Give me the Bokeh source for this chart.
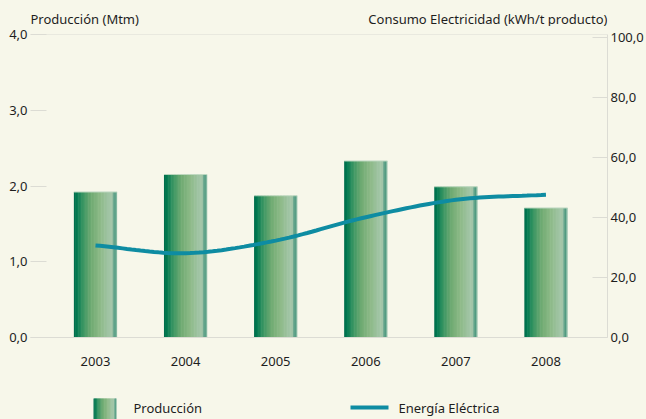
import numpy as np
from bokeh.plotting import figure
from bokeh.models import Range1d, LinearAxis, FixedTicker, Span
from bokeh.layouts import column
from bokeh.embed import file_html
from bokeh.resources import INLINE
from bokeh.core.properties import value

# ---- data ----
years = ["2003", "2004", "2005", "2006", "2007", "2008"]
produccion = [1.92, 2.15, 1.87, 2.33, 1.99, 1.71]          # Mtm (left axis)
energia = [30.7, 28.1, 32.3, 40.1, 45.9, 47.6]              # kWh/t (right axis)
left_ticks = [0, 1, 2, 3, 4]
left_labels = ["0,0", "1,0", "2,0", "3,0", "4,0"]
right_ticks = [0, 20, 40, 60, 80, 100]
right_labels = ["0,0", "20,0", "40,0", "60,0", "80,0", "100,0"]
left_title = "Producción (Mtm)"
right_title = "Consumo Electricidad (kWh/t producto)"
legend_labels = ["Producción", "Energía Eléctrica"]

# ---- style ----
BG = "#f7f7ea"
GRID = "#dcdcd4"
TXT = "#1e1e1e"
LINE = "#0e8ca2"
FONT = "Noto Sans"
FS = "13px"
W = 646
FL, FR = 30, 607   # frame edges in page pixels (column aligns frames)

stops = [
    (0.00, (0, 108, 76)),
    (0.06, (0, 120, 80)),
    (0.20, (55, 148, 98)),
    (0.40, (112, 171, 114)),
    (0.60, (140, 185, 135)),
    (0.80, (160, 196, 164)),
    (0.88, (166, 199, 170)),
    (0.91, (122, 176, 150)),
    (0.94, (72, 150, 124)),
    (0.97, (100, 166, 140)),
    (1.00, (165, 202, 182)),
]


def grad_color(t):
    for (p0, c0), (p1, c1) in zip(stops[:-1], stops[1:]):
        if p0 <= t <= p1:
            f = (t - p0) / (p1 - p0) if p1 > p0 else 0
            c = [int(round(a + (b - a) * f)) for a, b in zip(c0, c1)]
            return "#%02x%02x%02x" % tuple(c)
    return "#%02x%02x%02x" % stops[-1][1]


def strips(center, width, ns, overlap):
    lefts, rights, cols = [], [], []
    for k in range(ns):
        l = center - width / 2 + k * width / ns
        r = center - width / 2 + (k + 1) * width / ns
        if k < ns - 1:
            r += overlap
        lefts.append(l)
        rights.append(r)
        cols.append(grad_color((k + 0.5) / ns))
    return lefts, rights, cols


NS = 30
x0, x1 = -0.7214, 5.683
BW = 0.48

# ---- header with axis titles ----
head = figure(width=W, height=26, x_range=Range1d(FL, FR), y_range=Range1d(0, 26),
              output_backend="svg", toolbar_location=None, x_axis_type=None, y_axis_type=None,
              background_fill_color=BG, border_fill_color=BG, outline_line_color=None,
              min_border=0)
head.xgrid.visible = False
head.ygrid.visible = False
head.text(x=[FL], y=[8], text=[left_title], text_font=value(FONT), text_font_size=FS,
          text_color=TXT, text_baseline="middle", text_align="left")
head.text(x=[FR], y=[8], text=[right_title], text_font=value(FONT), text_font_size=FS,
          text_color=TXT, text_baseline="middle", text_align="right")

# ---- main chart ----
p = figure(width=W, height=354, x_range=Range1d(x0, x1), y_range=Range1d(0, 4),
           output_backend="svg", toolbar_location=None,
           background_fill_color=BG, border_fill_color=BG, outline_line_color=None,
           min_border_left=FL, min_border_right=W - FR, min_border_top=8, min_border_bottom=43)
p.extra_y_ranges = {"right": Range1d(0, 101)}
p.xgrid.visible = False
p.ygrid.visible = False

ya = p.yaxis[0]
ya.ticker = FixedTicker(ticks=left_ticks)
ya.major_label_overrides = {t: l for t, l in zip(left_ticks, left_labels)}
ya.axis_line_color = None
ya.major_tick_in = 16
ya.major_tick_out = 0
ya.major_tick_line_color = GRID
ya.minor_tick_line_color = None
ya.major_label_standoff = 3
ya.major_label_text_font = FONT
ya.major_label_text_font_size = FS
ya.major_label_text_color = TXT

xa = p.xaxis[0]
xa.ticker = FixedTicker(ticks=list(range(len(years))))
xa.major_label_overrides = {i: y for i, y in enumerate(years)}
xa.axis_line_color = GRID
xa.major_tick_line_color = None
xa.minor_tick_line_color = None
xa.major_label_standoff = 13
xa.major_label_text_font = FONT
xa.major_label_text_font_size = FS
xa.major_label_text_color = TXT

ra = LinearAxis(y_range_name="right", ticker=FixedTicker(ticks=right_ticks))
ra.major_label_overrides = {t: l for t, l in zip(right_ticks, right_labels)}
ra.axis_line_color = GRID
ra.major_tick_in = 15
ra.major_tick_out = 0
ra.major_tick_line_color = GRID
ra.minor_tick_line_color = None
ra.major_label_standoff = 3
ra.major_label_text_font = FONT
ra.major_label_text_font_size = FS
ra.major_label_text_color = TXT
p.add_layout(ra, "right")

p.add_layout(Span(location=4, dimension="width", line_color=GRID, line_width=1))

L, R, T, C = [], [], [], []
for i, v in enumerate(produccion):
    l, r, c = strips(i, BW, NS, 0.006)
    L += l
    R += r
    C += c
    T += [v] * NS
p.quad(left=L, right=R, top=T, bottom=0, fill_color=C, line_color=None)
# light highlight on bar tops
p.hbar(y=produccion, left=[i - BW / 2 for i in range(len(years))],
       right=[i + BW / 2 for i in range(len(years))], height=0.012,
       fill_color="#b9d6bd", line_color=None)

# smooth line (Catmull-Rom through the data points)
px = np.arange(len(energia), dtype=float)
py = np.array(energia, dtype=float)
ext_y = np.concatenate([[2 * py[0] - py[1]], py, [2 * py[-1] - py[-2]]])
cx, cy = [], []
for i in range(len(py) - 1):
    p0, p1_, p2, p3 = ext_y[i], ext_y[i + 1], ext_y[i + 2], ext_y[i + 3]
    for s in np.linspace(0, 1, 20, endpoint=(i == len(py) - 2)):
        cx.append(px[i] + s)
        cy.append(0.5 * ((2 * p1_) + (-p0 + p2) * s + (2 * p0 - 5 * p1_ + 4 * p2 - p3) * s ** 2
                         + (-p0 + 3 * p1_ - 3 * p2 + p3) * s ** 3))
p.line(cx, cy, y_range_name="right", line_color=LINE, line_width=4)

# ---- legend strip ----
leg = figure(width=W, height=39, x_range=Range1d(FL, FR), y_range=Range1d(0, 39),
             output_backend="svg", toolbar_location=None, x_axis_type=None, y_axis_type=None,
             background_fill_color=BG, border_fill_color=BG, outline_line_color=None,
             min_border=0)
leg.xgrid.visible = False
leg.ygrid.visible = False
l, r, c = strips(104.5, 23, NS, 0.5)
leg.quad(left=l, right=r, top=21, bottom=0, fill_color=c, line_color=None)
leg.line([350, 388], [12, 12], line_color=LINE, line_width=4)
leg.text(x=[133, 398], y=[12, 12], text=legend_labels, text_font=value(FONT),
         text_font_size=FS, text_color=TXT, text_baseline="middle", text_align="left")

layout = column(head, p, leg, spacing=0)
html = file_html(layout, INLINE)
html = html.replace("<head>", "<head><style>html,body{background:%s;}</style>" % BG, 1)
open("out.html", "w").write(html)
